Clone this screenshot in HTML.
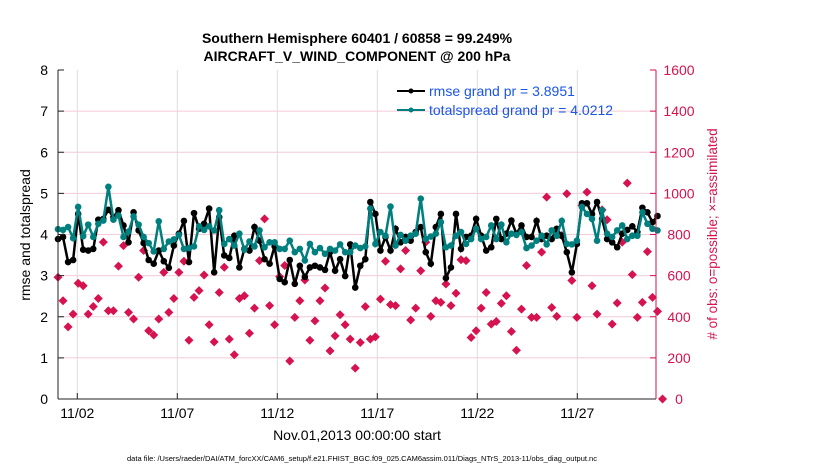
<!DOCTYPE html>
<html><head><meta charset="utf-8"><style>
body{margin:0;background:#fff;width:830px;height:470px;overflow:hidden}
svg{font-family:"Liberation Sans",Arial,sans-serif}
</style></head><body>
<svg id="chart" width="830" height="470" viewBox="0 0 830 470" xmlns="http://www.w3.org/2000/svg">
<text x="357" y="43" text-anchor="middle" font-size="14" font-weight="bold">Southern Hemisphere 60401 / 60858 = 99.249%</text>
<text x="357" y="61" text-anchor="middle" font-size="14" font-weight="bold">AIRCRAFT_V_WIND_COMPONENT @ 200 hPa</text>
<g id="grid"></g>
<g id="marks"></g>
<g id="axes"></g>
<text transform="translate(30,235) rotate(-90)" text-anchor="middle" font-size="14">rmse and totalspread</text>
<text transform="translate(717,234) rotate(-90)" text-anchor="middle" font-size="13.5" fill="#d6124f"># of obs: o=possible; ×=assimilated</text>
<text x="357" y="440" text-anchor="middle" font-size="14">Nov.01,2013 00:00:00 start</text>
<text x="362" y="461" text-anchor="middle" font-size="7.5">data file: /Users/raeder/DAI/ATM_forcXX/CAM6_setup/f.e21.FHIST_BGC.f09_025.CAM6assim.011/Diags_NTrS_2013-11/obs_diag_output.nc</text>
<g>
<line x1="397" y1="91" x2="425" y2="91" stroke="#000" stroke-width="2"/><circle cx="411" cy="91" r="2.5" fill="#000"/>
<text x="429" y="96" font-size="14" fill="#1a55e8">rmse grand pr = 3.8951</text>
<line x1="397" y1="110" x2="425" y2="110" stroke="#007f7f" stroke-width="2"/><circle cx="411" cy="110" r="2.5" fill="#007f7f"/>
<text x="429" y="115" font-size="14" fill="#1a55e8">totalspread grand pr = 4.0212</text>
</g>
</svg>
<script>
const rmse=[3.89,3.94,3.33,3.38,4.5,3.63,3.61,3.65,4.36,4.38,4.6,4.42,4.59,4.22,3.81,4.54,4.1,3.79,3.38,3.29,3.61,3.35,3.19,3.73,4.02,4.33,3.33,4.52,4.14,4.26,4.63,3.08,4.42,3.49,3.43,3.97,3.2,3.65,3.61,4.18,3.85,
3.4,3.29,3.71,2.92,2.84,3.38,2.80,3.24,2.97,3.2,3.24,3.2,3.14,3.57,3.12,3.4,2.99,3.76,2.71,3.24,3.4,4.79,4.5,3.61,3.94,3.61,4.14,3.81,3.94,3.85,4.06,4.18,3.57,3.29,4.18,4.5,2.94,3.2,4.5,3.65,
3.94,3.97,4.38,3.97,3.61,3.69,4.38,3.89,4.02,4.34,4.02,4.22,3.94,3.94,4.33,3.89,3.97,3.89,4.14,3.97,3.57,3.08,3.77,4.76,4.76,4.5,4.79,4.38,3.89,3.81,3.69,4.02,4.11,4.2,4.06,4.65,4.54,4.30,4.45];
const spread=[4.13,4.11,4.18,3.91,4.67,3.96,4.24,3.94,4.26,4.34,5.16,4.36,4.46,3.94,4.07,4.44,4.24,3.94,3.79,3.59,4.32,3.65,3.83,3.88,3.99,3.65,3.67,3.71,4.2,4.11,4.2,4.1,4.59,3.77,3.89,3.73,4.02,3.63,3.83,3.71,4.1,
3.69,3.81,3.81,3.65,3.65,3.85,3.57,3.65,3.37,3.77,3.57,3.67,3.53,3.65,3.61,3.76,3.57,3.57,3.73,3.67,3.71,4.63,3.77,4.06,3.97,4.68,3.73,3.99,3.85,3.97,4.02,4.87,3.89,3.95,4.02,4.3,3.69,3.73,3.97,4.06,
3.77,3.89,4.14,3.89,3.94,4.22,3.89,4.24,3.81,4.02,3.99,4.06,3.67,3.73,3.85,3.97,3.76,4.1,3.97,4.33,3.77,3.76,3.85,4.67,4.5,4.38,3.85,4.59,4.02,3.94,4.1,4.22,3.89,3.97,3.97,4.54,4.26,4.14,4.1];
const nobs=[592,478,351,413,563,551,413,450,489,763,429,429,646,746,421,389,592,722,332,311,389,616,421,489,616,670,286,494,527,603,361,278,518,641,291,215,489,502,320,442,673,
876,454,361,595,649,185,397,478,579,286,380,478,540,234,307,410,361,291,150,275,449,291,302,486,670,459,454,633,722,384,442,624,763,402,478,470,559,454,514,677,
673,299,332,442,518,364,377,465,502,328,237,437,649,397,397,714,982,445,402,795,998,576,397,941,1006,551,413,920,872,364,467,763,1050,605,397,470,717,494,426,0];
const leftTicks=[0,1,2,3,4,5,6,7,8];
const rightTicks=[0,200,400,600,800,1000,1200,1400,1600];
const dateTicks=["11/02","11/07","11/12","11/17","11/22","11/27"];
const dateTickDays=[1,6,11,16,21,26];

const X0=58,X1=656,Y0=399,Y1=70;
const xDay=d=>57.3+d*20;
const xIdx=i=>58+i*(599.5/119);
const yL=v=>Y0-(v/8)*(Y0-Y1);
const yR=v=>Y0-(v/1600)*(Y0-Y1);
const NS="http://www.w3.org/2000/svg";
function mk(parent,tag,attrs){const e=document.createElementNS(NS,tag);for(const k in attrs)e.setAttribute(k,attrs[k]);parent.appendChild(e);return e;}
const grid=document.getElementById('grid'),marks=document.getElementById('marks'),axes=document.getElementById('axes');

dateTickDays.forEach((d,i)=>{
  const g=mk(grid,'line',{x1:xDay(d),x2:xDay(d),y1:Y1,y2:Y0,stroke:'#dcdcdc','stroke-width':1});
  
  
  const t=mk(axes,'line',{x1:xDay(d),x2:xDay(d),y1:Y0,y2:Y0-6,stroke:'#222'});
  
  
  const lb=mk(axes,'text',{x:xDay(d),y:Y0+19,'text-anchor':'middle','font-size':14});
  lb.textContent=dateTicks[i];
  
  
});
rightTicks.forEach(v=>{
  if(v>0&&v<1600){const g=mk(grid,'line',{x1:X0,x2:X1,y1:yR(v),y2:yR(v),stroke:'#f4cbd8','stroke-width':1});
  
  }
  const t=mk(axes,'line',{x1:X1,x2:X1-6,y1:yR(v),y2:yR(v),stroke:'#d6124f'});
  
  
  const lb=mk(axes,'text',{x:679,y:yR(v)+5,'font-size':14,fill:'#d6124f','text-anchor':'middle'});
  lb.textContent=v;
  
  
});
leftTicks.forEach(v=>{
  const t=mk(axes,'line',{x1:X0,x2:X0+6,y1:yL(v),y2:yL(v),stroke:'#222'});
  
  
  const lb=mk(axes,'text',{x:X0-10,y:yL(v)+5,'font-size':14,'text-anchor':'end'});
  lb.textContent=v;
  
  
});
let a=mk(axes,'line',{x1:X0,x2:X0,y1:Y1,y2:Y0,stroke:'#222'});


a=mk(axes,'line',{x1:X0,x2:X1,y1:Y0,y2:Y0,stroke:'#222'});


a=mk(axes,'line',{x1:X1,x2:X1,y1:Y1,y2:Y0,stroke:'#d6124f'});



nobs.forEach((v,i)=>{
  const x=xIdx(i),y=yR(v);
  const p=mk(marks,'path',{d:`M${x-4.5},${y}L${x},${y-4.5}L${x+4.5},${y}L${x},${y+4.5}Z`,fill:'#d6124f'});
  
  
});
function series(vals,color,name){
  const pts=vals.map((v,i)=>xIdx(i).toFixed(1)+','+yL(v).toFixed(1)).join(' ');
  const l=mk(marks,'polyline',{points:pts,fill:'none',stroke:color,'stroke-width':2.5});
  
  
  vals.forEach((v,i)=>{
    const c=mk(marks,'circle',{cx:xIdx(i),cy:yL(v),r:3.3,fill:color});
    
    
  });
}
series(rmse,'#000','rmse');
series(spread,'#007f7f','totalspread');
</script>
</body></html>
